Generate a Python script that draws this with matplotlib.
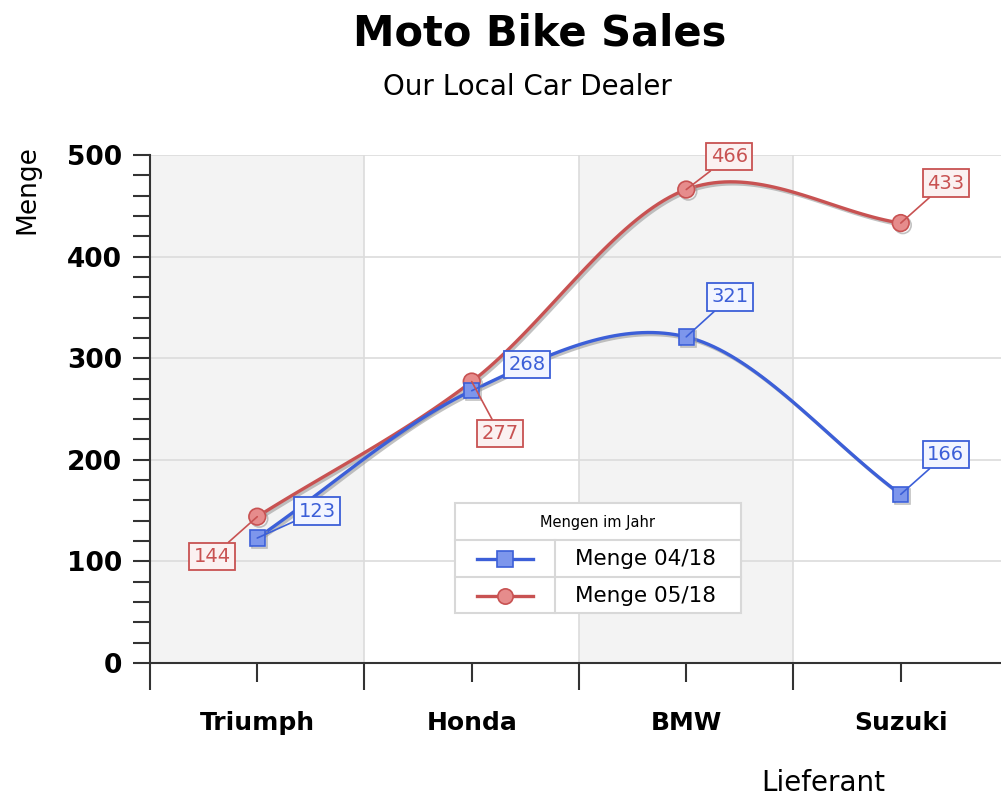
import numpy as np
import matplotlib.pyplot as plt
import matplotlib.patheffects as pe
from matplotlib.lines import Line2D
from matplotlib.patches import Rectangle

# Daten
lieferant = ['Triumph', 'Honda', 'BMW', 'Suzuki']
menge_0418 = [123, 268, 321, 166]
menge_0518 = [144, 277, 466, 433]
serien = ['Menge 04/18', 'Menge 05/18']

blau = '#3c5fd8'
rot = '#c85252'


def catmull_rom(x, y, n=40):
    # glatte Kurve durch die Punkte (nur fuer die Darstellung)
    x = np.asarray(x, float)
    y = np.asarray(y, float)
    px = np.concatenate([[2 * x[0] - x[1]], x, [2 * x[-1] - x[-2]]])
    py = np.concatenate([[2 * y[0] - y[1]], y, [2 * y[-1] - y[-2]]])
    xs, ys = [], []
    t = np.linspace(0, 1, n)
    for i in range(1, len(px) - 2):
        for p, out in ((px, xs), (py, ys)):
            p0, p1, p2, p3 = p[i - 1], p[i], p[i + 1], p[i + 2]
            out.extend(0.5 * (2 * p1 + (-p0 + p2) * t
                              + (2 * p0 - 5 * p1 + 4 * p2 - p3) * t ** 2
                              + (-p0 + 3 * p1 - 3 * p2 + p3) * t ** 3))
    return np.array(xs), np.array(ys)


W, H = 1001, 800
fig = plt.figure(figsize=(W / 100, H / 100), dpi=100)
ax = fig.add_axes([150 / W, 1 - 663 / H, 1 - 150 / W, (663 - 155) / H])

x = np.arange(len(lieferant))
ax.set_xlim(-0.5, 3.5 - 7 / 214.7)
ax.set_ylim(0, 500)

# abwechselnde Hintergrundstreifen
for i in range(0, len(lieferant), 2):
    ax.axvspan(i - 0.5, i + 0.5, color='#f3f3f3', zorder=0, lw=0)

for yv in range(100, 501, 100):
    ax.axhline(yv, color='#dcdcdc', lw=1.2, zorder=1)
for xv in np.arange(0.5, len(lieferant) - 0.5, 1):
    ax.axvline(xv, color='#dcdcdc', lw=1.2, zorder=1)

shadow = [pe.SimpleLineShadow(offset=(1.5, -1.5), shadow_color='#999999', alpha=0.6), pe.Normal()]

sx, sy = catmull_rom(x, menge_0518)
ax.plot(sx, sy, color=rot, lw=2.4, zorder=3, path_effects=shadow)
ax.plot(x, menge_0518, 'o', ms=12, mfc='#e68c8c', mec=rot, mew=1.2, zorder=4,
        path_effects=shadow)

sx, sy = catmull_rom(x, menge_0418)
ax.plot(sx, sy, color=blau, lw=2.4, zorder=3, path_effects=shadow)
ax.plot(x, menge_0418, 's', ms=11, mfc='#7d96ec', mec=blau, mew=1.2, zorder=4,
        path_effects=shadow)

# Beschriftungen mit Rahmen
off_blau = [(60, 27), (55, 26), (44, 40), (45, 40)]
off_rot = [(-45, -40), (28, -52), (43, 33), (45, 40)]
for vals, offs, col, fc in ((menge_0418, off_blau, blau, '#f2f5ff'),
                            (menge_0518, off_rot, rot, '#fbf1f1')):
    for xi, v, (dx, dy) in zip(x, vals, offs):
        ax.annotate(str(v), (xi, v), xytext=(dx * 0.72, dy * 0.72),
                    textcoords='offset points', ha='center', va='center',
                    fontsize=14, color=col, zorder=6,
                    bbox=dict(boxstyle='square,pad=0.22', fc=fc, ec=col, lw=1.3),
                    arrowprops=dict(arrowstyle='-', color=col, lw=1.2,
                                    shrinkA=0, shrinkB=0))

# Achsen
for s in ['top', 'right']:
    ax.spines[s].set_visible(False)
ax.spines['left'].set_color('#333333')
ax.spines['bottom'].set_color('#333333')
ax.spines['left'].set_linewidth(1.5)
ax.spines['bottom'].set_linewidth(1.5)

ax.set_yticks(range(0, 501, 100))
ax.set_yticks(range(0, 501, 20), minor=True)
ax.tick_params(axis='y', which='both', length=12, width=1.5, color='#333333',
               labelsize=19, pad=8)
for lbl in ax.get_yticklabels():
    lbl.set_fontweight('bold')

ax.set_xticks(np.arange(-0.5, 3.5, 1))
ax.set_xticklabels([])
ax.set_xticks(x, minor=True)
ax.set_xticklabels(lieferant, minor=True, fontsize=18, fontweight='bold')
ax.tick_params(axis='x', which='major', length=19.5, width=1.5, color='#333333')
ax.tick_params(axis='x', which='minor', length=13.5, width=1.5, color='#333333', pad=21)

fig.text(27 / W, 1 - 190 / H, 'Menge', rotation=90, ha='center', va='center', fontsize=19)
fig.text(823 / W, 1 - 783 / H, 'Lieferant', ha='center', va='center', fontsize=20)

fig.text(540 / W, 1 - 33 / H, 'Moto Bike Sales', ha='center', va='center',
         fontsize=30, fontweight='bold')
fig.text(527 / W, 1 - 87 / H, 'Our Local Car Dealer', ha='center', va='center', fontsize=20)

# Legende als Tabelle
def fx(px):
    return px / W


def fy(py):
    return 1 - py / H


lg_col = '#d8d8d8'
fig.add_artist(Rectangle((fx(455), fy(613)), fx(741) - fx(455), fy(503) - fy(613),
                         transform=fig.transFigure, fc='white', ec=lg_col, lw=1.5, zorder=5))
for yy in (540, 577):
    fig.add_artist(Line2D([fx(455), fx(741)], [fy(yy), fy(yy)], color=lg_col, lw=1.5, zorder=6))
fig.add_artist(Line2D([fx(555), fx(555)], [fy(540), fy(613)], color=lg_col, lw=1.5, zorder=6))
fig.text(fx(598), fy(522), 'Mengen im Jahr', ha='center', va='center', fontsize=10.5, zorder=7)
for yy, name, col, mk, mfc in ((559, serien[0], blau, 's', '#7d96ec'),
                               (596, serien[1], rot, 'o', '#e68c8c')):
    fig.add_artist(Line2D([fx(477), fx(533)], [fy(yy), fy(yy)], color=col, lw=2.4, zorder=7))
    fig.add_artist(Line2D([fx(505)], [fy(yy)], marker=mk, ms=11, mfc=mfc, mec=col,
                          mew=1.2, zorder=8))
    fig.text(fx(575), fy(yy), name, ha='left', va='center', fontsize=15.5, zorder=7)

fig.savefig('out.png', dpi=100)
